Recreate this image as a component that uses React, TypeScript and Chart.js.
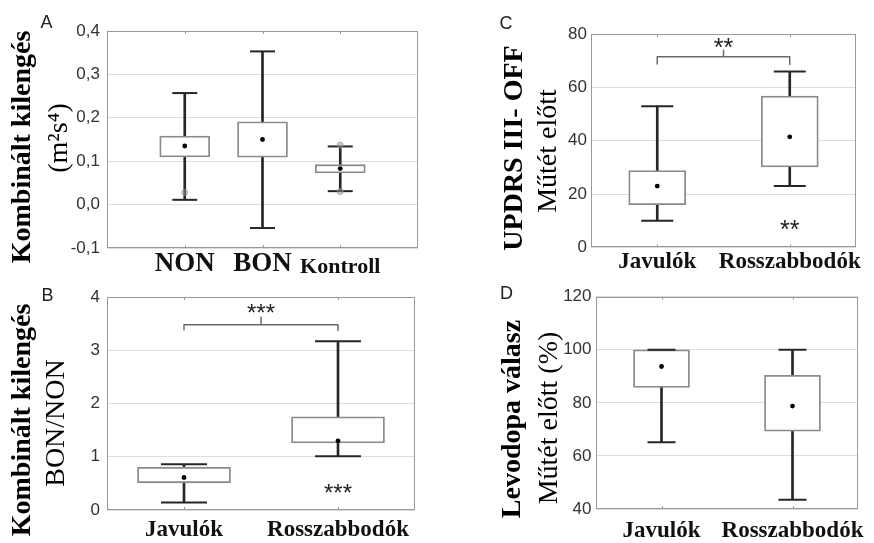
import React, { useEffect, useRef } from "react";
import { Chart, registerables } from "chart.js";

Chart.register(...registerables);

const SERIF = '"Liberation Serif", "Times New Roman", serif';
const SANS = '"Liberation Sans", Arial, sans-serif';
const WHISKER = "#262626";
const BOX = "#8a8a8a";
const GRID = "#dddddd";
const FRAME = "#9a9a9a";
const BRACKET = "#6a6a6a";

// ---------- Panel A ----------
const aLabels = ["NON", "BON", "Kontroll"];
const aPos = [1, 2, 3];
const aMin = [0.011, -0.054, 0.031];
const aQ1 = [0.11, 0.109, 0.073];
const aQ3 = [0.158, 0.191, 0.092];
const aMax = [0.257, 0.353, 0.134];
const aMean = [0.135, 0.15, 0.083];
const aRawX = [1, 3, 3];
const aRawY = [0.028, 0.137, 0.03];
const aYTickValues = [-0.1, 0, 0.1, 0.2, 0.3, 0.4];
const aYTickLabels = ["-0,1", "0,0", "0,1", "0,2", "0,3", "0,4"];

// ---------- Panel B ----------
const bLabels = ["Javulók", "Rosszabbodók"];
const bPos = [1, 3];
const bMin = [0.14, 1.01];
const bQ1 = [0.51, 1.26];
const bQ3 = [0.8, 1.75];
const bMax = [0.86, 3.17];
const bMean = [0.61, 1.3];
const bYTickValues = [0, 1, 2, 3, 4];
const bYTickLabels = ["0", "1", "2", "3", "4"];
const bStarsText = ["***", "***"];
const bStarsX = [2, 3];
const bStarsY = [3.8, 0.43];

// ---------- Panel C ----------
const cLabels = ["Javulók", "Rosszabbodók"];
const cPos = [1, 2];
const cMin = [10, 23];
const cQ1 = [16, 30.2];
const cQ3 = [28.8, 56.8];
const cMax = [53, 66];
const cMean = [23, 41.5];
const cYTickValues = [0, 20, 40, 60, 80];
const cYTickLabels = ["0", "20", "40", "60", "80"];
const cStarsText = ["**", "**"];
const cStarsX = [1.5, 2];
const cStarsY = [77.2, 8.8];

// ---------- Panel D ----------
const dLabels = ["Javulók", "Rosszabbodók"];
const dPos = [1, 2];
const dMin = [65.2, 43.5];
const dQ1 = [85.8, 69.3];
const dQ3 = [100, 90.4];
const dMax = [100, 100];
const dMean = [93.7, 78.8];
const dYTickValues = [40, 60, 80, 100, 120];
const dYTickLabels = ["40", "60", "80", "100", "120"];

type Bracket = { from: number; to: number; y: number; end: number; top: number };

type Panel = {
  left: number; top: number; w: number; h: number;
  area: { left: number; right: number; top: number; bottom: number };
  xMin: number; xMax: number; yMin: number; yMax: number;
  pos: number[]; labels: string[]; labelFonts: any[];
  min: number[]; q1: number[]; q3: number[]; max: number[]; mean: number[];
  rawX: number[]; rawY: number[];
  yTickValues: number[]; yTickLabels: string[];
  boxW: number; capR: number; yPad: number; xPad: number;
  letter: string; letterX: number; letterY: number;
  titles: { text: string; bold: boolean; x: number; y: number }[];
  bracket?: Bracket;
  starsText: string[]; starsX: number[]; starsY: number[]; starSize: number;
};

const catFont = (size: number, lh = 1.2) => ({ family: SERIF, size, weight: "bold", lineHeight: lh });

const panels: Panel[] = [
  {
    left: 0, top: 0, w: 440, h: 285,
    area: { left: 107, right: 418, top: 31, bottom: 248 },
    xMin: 0, xMax: 4, yMin: -0.1, yMax: 0.4,
    pos: aPos, labels: aLabels,
    labelFonts: [catFont(27), catFont(27), catFont(22, 1.73)],
    min: aMin, q1: aQ1, q3: aQ3, max: aMax, mean: aMean,
    rawX: aRawX, rawY: aRawY,
    yTickValues: aYTickValues, yTickLabels: aYTickLabels,
    boxW: 50, capR: 12.5, yPad: 7, xPad: 0,
    letter: "A", letterX: 46.5, letterY: 23.5,
    titles: [
      { text: "Kombinált kilengés", bold: true, x: 23, y: 147 },
      { text: "(m²s⁴)", bold: false, x: 60, y: 138 },
    ],
    starsText: [], starsX: [], starsY: [], starSize: 24,
  },
  {
    left: 0, top: 272, w: 440, h: 271,
    area: { left: 107, right: 417, top: 20.3, bottom: 238 },
    xMin: 0, xMax: 4, yMin: 0, yMax: 4,
    pos: bPos, labels: bLabels,
    labelFonts: [catFont(23), catFont(23)],
    min: bMin, q1: bQ1, q3: bQ3, max: bMax, mean: bMean,
    rawX: [], rawY: [],
    yTickValues: bYTickValues, yTickLabels: bYTickLabels,
    boxW: 93, capR: 23, yPad: 7, xPad: 6,
    letter: "B", letterX: 47.5, letterY: 24,
    titles: [
      { text: "Kombinált kilengés", bold: true, x: 23, y: 148 },
      { text: "BON/NON", bold: false, x: 57, y: 151 },
    ],
    bracket: { from: 1, to: 3, y: 3.48, end: 3.37, top: 3.62 },
    starsText: bStarsText, starsX: bStarsX, starsY: bStarsY, starSize: 24,
  },
  {
    left: 440, top: 0, w: 434, h: 272,
    area: { left: 151, right: 429, top: 34.3, bottom: 247.3 },
    xMin: 0.5, xMax: 2.5, yMin: 0, yMax: 80,
    pos: cPos, labels: cLabels,
    labelFonts: [catFont(23), catFont(23)],
    min: cMin, q1: cQ1, q3: cQ3, max: cMax, mean: cMean,
    rawX: [], rawY: [],
    yTickValues: cYTickValues, yTickLabels: cYTickLabels,
    boxW: 57, capR: 16, yPad: 4, xPad: 1,
    letter: "C", letterX: 66, letterY: 24,
    titles: [
      { text: "UPDRS III- OFF", bold: true, x: 75, y: 148 },
      { text: "Műtét előtt", bold: false, x: 109, y: 151 },
    ],
    bracket: { from: 1, to: 2, y: 71.6, end: 68.7, top: 74 },
    starsText: cStarsText, starsX: cStarsX, starsY: cStarsY, starSize: 25,
  },
  {
    left: 440, top: 272, w: 434, h: 271,
    area: { left: 156, right: 432.7, top: 24.7, bottom: 237 },
    xMin: 0.5, xMax: 2.5, yMin: 40, yMax: 120,
    pos: dPos, labels: dLabels,
    labelFonts: [catFont(23), catFont(23)],
    min: dMin, q1: dQ1, q3: dQ3, max: dMax, mean: dMean,
    rawX: [], rawY: [],
    yTickValues: dYTickValues, yTickLabels: dYTickLabels,
    boxW: 56, capR: 14, yPad: 4.5, xPad: 8,
    letter: "D", letterX: 66.5, letterY: 22.5,
    titles: [
      { text: "Levodopa válasz", bold: true, x: 73, y: 147 },
      { text: "Műtét előtt (%)", bold: false, x: 110, y: 146 },
    ],
    starsText: [], starsX: [], starsY: [], starSize: 24,
  },
];

function buildConfig(p: Panel): any {
  const whisk = p.pos.map((x, i) => ({ x, y: [p.min[i], p.max[i]] }));
  const box = p.pos.map((x, i) => ({ x, y: [p.q1[i], p.q3[i]] }));
  const caps = p.pos.flatMap((x, i) => [{ x, y: p.min[i] }, { x, y: p.max[i] }]);
  const means = p.pos.map((x, i) => ({ x, y: p.mean[i] }));
  const raw = p.rawX.map((x, i) => ({ x, y: p.rawY[i] }));
  const datasets: any[] = [
    {
      type: "scatter", data: means, order: 0,
      pointRadius: 2.4, pointBackgroundColor: "#000", pointBorderColor: "#000", pointBorderWidth: 0,
    },
    {
      type: "scatter", data: raw, order: 1,
      pointRadius: 3, pointBackgroundColor: "rgba(150,150,150,0.5)",
      pointBorderColor: "rgba(140,140,140,0.6)", pointBorderWidth: 1,
    },
    {
      type: "scatter", data: caps, order: 2, pointStyle: "line",
      pointRadius: p.capR, pointBorderColor: WHISKER, pointBorderWidth: 2,
    },
    {
      type: "bar", data: box, order: 3, barThickness: p.boxW, grouped: false,
      backgroundColor: "#ffffff", borderColor: BOX, borderWidth: 1.8, borderSkipped: false,
    },
    {
      type: "bar", data: whisk, order: 4, barThickness: 2, grouped: false,
      backgroundColor: WHISKER, borderWidth: 0,
    },
  ];
  const b = p.bracket;
  if (b) {
    const mid = (b.from + b.to) / 2;
    datasets.push({
      type: "line", order: 5,
      data: [
        { x: b.from, y: b.end }, { x: b.from, y: b.y }, { x: mid, y: b.y },
        { x: mid, y: b.top }, { x: mid, y: b.y }, { x: b.to, y: b.y }, { x: b.to, y: b.end },
      ],
      borderColor: BRACKET, borderWidth: 1.5, pointRadius: 0, fill: false, tension: 0,
      borderJoinStyle: "round",
    });
  }

  const deco = {
    id: "deco" + p.letter,
    afterDraw(chart: any) {
      const ctx = chart.ctx as CanvasRenderingContext2D;
      const a = chart.chartArea;
      const xs = chart.scales.x;
      const ys = chart.scales.y;
      ctx.save();
      ctx.strokeStyle = FRAME;
      ctx.lineWidth = 1;
      ctx.strokeRect(Math.round(a.left) + 0.5, Math.round(a.top) + 0.5,
        Math.round(a.right - a.left) - 1, Math.round(a.bottom - a.top) - 1);
      ctx.beginPath();
      p.pos.forEach((v) => {
        const x = Math.round(xs.getPixelForValue(v)) + 0.5;
        ctx.moveTo(x, a.top); ctx.lineTo(x, a.top + 3);
        ctx.moveTo(x, a.bottom); ctx.lineTo(x, a.bottom - 3);
      });
      ctx.stroke();
      // significance stars
      ctx.fillStyle = "#222";
      ctx.font = `${p.starSize}px ${SANS}`;
      ctx.textAlign = "center";
      ctx.textBaseline = "alphabetic";
      p.starsText.forEach((t, i) => {
        const x = xs.getPixelForValue(p.starsX[i]);
        const y = ys.getPixelForValue(p.starsY[i]) + 0.57 * p.starSize;
        ctx.fillText(t, x, y);
      });
      // panel letter
      ctx.fillStyle = "#222";
      ctx.font = `18px ${SANS}`;
      ctx.textBaseline = "middle";
      ctx.fillText(p.letter, p.letterX, p.letterY);
      // y titles
      ctx.fillStyle = "#000";
      p.titles.forEach((t) => {
        ctx.save();
        ctx.translate(t.x, t.y);
        ctx.rotate(-Math.PI / 2);
        ctx.font = `${t.bold ? "bold " : ""}28px ${SERIF}`;
        ctx.textAlign = "center";
        ctx.textBaseline = "middle";
        ctx.fillText(t.text, 0, 0);
        ctx.restore();
      });
      ctx.restore();
    },
  };

  return {
    type: "bar",
    data: { datasets },
    plugins: [deco],
    options: {
      responsive: false,
      animation: false,
      devicePixelRatio: 1,
      events: [],
      layout: { padding: { left: 0, right: p.w - p.area.right, top: p.area.top, bottom: 0 } },
      plugins: { legend: { display: false }, tooltip: { enabled: false } },
      scales: {
        x: {
          type: "linear", min: p.xMin, max: p.xMax, offset: false,
          grid: { display: false, offset: false, drawTicks: false },
          border: { display: false },
          afterBuildTicks: (s: any) => { s.ticks = p.pos.map((v) => ({ value: v })); },
          afterFit: (s: any) => { s.height = p.h - p.area.bottom; s.paddingLeft = 0; s.paddingRight = 0; },
          ticks: {
            autoSkip: false, maxRotation: 0, minRotation: 0, padding: p.xPad, color: "#111",
            callback: (_v: any, i: number) => p.labels[i],
            font: (c: any) => p.labelFonts[c.index] || p.labelFonts[0],
          },
        },
        y: {
          type: "linear", min: p.yMin, max: p.yMax,
          afterBuildTicks: (s: any) => { s.ticks = p.yTickValues.map((v) => ({ value: v })); },
          afterFit: (s: any) => { s.width = p.area.left; },
          grid: { color: GRID, lineWidth: 1, drawTicks: false },
          border: { display: false },
          ticks: {
            padding: p.yPad, color: "#333",
            font: { family: SANS, size: 17 },
            callback: (_v: any, i: number) => p.yTickLabels[i],
          },
        },
      },
    },
  };
}

function PanelChart({ p }: { p: Panel }) {
  const ref = useRef<HTMLCanvasElement>(null);
  useEffect(() => {
    const chart = new Chart(ref.current as HTMLCanvasElement, buildConfig(p));
    return () => chart.destroy();
  }, [p]);
  return (
    <canvas
      ref={ref}
      width={p.w}
      height={p.h}
      style={{ position: "absolute", left: p.left, top: p.top, width: p.w, height: p.h }}
    />
  );
}

export default function App() {
  return (
    <div style={{ position: "absolute", left: 0, top: 0, width: 874, height: 543, background: "#fff", overflow: "hidden" }}>
      {panels.map((p) => (
        <PanelChart key={p.letter} p={p} />
      ))}
    </div>
  );
}
